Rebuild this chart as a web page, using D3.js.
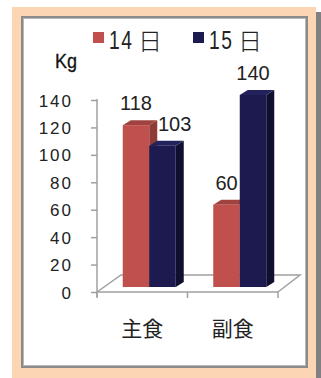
<!DOCTYPE html>
<html><head><meta charset="utf-8">
<script src="https://cdn.jsdelivr.net/npm/d3@7"></script>
<style>body{margin:0;background:#fff}svg{display:block}</style>
</head><body>
<script>
const categories = ["主食", "副食"];
const seriesNames = ["14日", "15日"];
const values14 = [118, 60];
const values15 = [103, 140];
const yTicks = [0, 20, 40, 60, 80, 100, 120, 140];
const unitLabel = "Kg";

const colors = ["#C0504D", "#1C1A4E"];
const sideColors = ["#8E3A37", "#100F30"];
const topColors = ["#A0433F", "#24225C"];

const W = 321, H = 378;
const svg = d3.select("body").append("svg").attr("width", W).attr("height", H);
svg.append("rect").attr("width", W).attr("height", H).attr("fill", "#fff");
// shadow + peach frame
svg.append("rect").attr("x", 316).attr("y", 12).attr("width", 5).attr("height", H - 12).attr("fill", "#808080");
svg.append("rect").attr("x", 12).attr("y", 7).attr("width", 304).attr("height", H - 7).attr("fill", "#FCD5B5");
svg.append("rect").attr("x", 22).attr("y", 17).attr("width", 285).attr("height", 350)
  .attr("fill", "#fff").attr("stroke", "#8a8a8a").attr("stroke-width", 2);
svg.append("rect").attr("x", 23.5).attr("y", 18.5).attr("width", 282).attr("height", 347)
  .attr("fill", "none").attr("stroke", "#b8b8b8").attr("stroke-width", 1);

const x0 = 97, x1 = 278, yBase = 292;
const depthX = 23, depthY = -17;
const y = d3.scaleLinear().domain([0, 140]).range([yBase, 100]);
const xCat = d3.scaleBand().domain(categories).range([x0, x1]).padding(0);
const barW = 26.5;
const xSer = d3.scaleBand().domain(seriesNames)
  .range([(xCat.bandwidth() - 2 * barW) / 2, (xCat.bandwidth() + 2 * barW) / 2]).padding(0);

const axisColor = "#a0a0a0";
// floor
const floor = [[x0, yBase], [x0 + depthX + 1, yBase + depthY], [x1 + depthX - 1, yBase + depthY], [x1, yBase]];
svg.append("path").attr("d", d3.line()(floor)).attr("fill", "none").attr("stroke", axisColor).attr("stroke-width", 1.5);

// y axis
const yAxis = d3.axisLeft(y).tickValues(yTicks).tickSize(6).tickPadding(12);
const gy = svg.append("g").attr("transform", `translate(${x0},0)`).call(yAxis);
gy.select(".domain").attr("stroke", axisColor).attr("stroke-width", 1.5).attr("d", `M0,${y(140) - 1}V${yBase + 5}`);
gy.selectAll(".tick line").attr("stroke", axisColor).attr("stroke-width", 1.5);
gy.selectAll(".tick text").attr("font-family", "Liberation Sans, Arial, sans-serif")
  .attr("font-size", 17).attr("fill", "#222").attr("letter-spacing", "2px").attr("x", -24).attr("dy", "0.36em");

// x axis
const xAxis = d3.axisBottom(xCat).tickSize(0).tickFormat("");
const gx = svg.append("g").attr("transform", `translate(0,${yBase})`).call(xAxis);
gx.select(".domain").attr("stroke", axisColor).attr("stroke-width", 1.5).attr("d", `M${x0},0H${x1}`);
gx.selectAll(".tick").remove();
const catEdges = [x0].concat(categories.map(c => xCat(c) + xCat.bandwidth()));
gx.selectAll("line.ct").data(catEdges).join("line").attr("class", "ct")
  .attr("x1", d => d).attr("x2", d => d).attr("y1", 0).attr("y2", 6).attr("stroke", axisColor).attr("stroke-width", 1.5);
svg.selectAll("text.cat").data(categories).join("text").attr("class", "cat")
  .attr("x", d => xCat(d) + xCat.bandwidth() / 2).attr("y", 336)
  .attr("text-anchor", "middle").attr("font-family", "Noto Sans CJK JP, sans-serif")
  .attr("font-size", 21).attr("fill", "#222").text(d => d);

// bars
const offX = 7, offY = -5, bdx = 8, bdy = -5;
const bars = [];
categories.forEach((c, i) => {
  [values14, values15].forEach((vals, s) => {
    const xl = xCat(c) + xSer(seriesNames[s]) + offX;
    bars.push({ c, s, v: vals[i], xl, xr: xl + xSer.bandwidth(), yt: y(vals[i]) + offY, yb: yBase + offY });
  });
});
const gb = svg.append("g");
bars.forEach(b => {
  const g = gb.append("g");
  g.append("path").attr("d", d3.line()([[b.xr, b.yt], [b.xr + bdx, b.yt + bdy], [b.xr + bdx, b.yb + bdy], [b.xr, b.yb]]) + "Z")
    .attr("fill", sideColors[b.s]);
  g.append("path").attr("d", d3.line()([[b.xl, b.yt], [b.xl + bdx, b.yt + bdy], [b.xr + bdx, b.yt + bdy], [b.xr, b.yt]]) + "Z")
    .attr("fill", topColors[b.s]);
  g.append("rect").attr("x", b.xl).attr("y", b.yt).attr("width", b.xr - b.xl).attr("height", b.yb - b.yt)
    .attr("fill", colors[b.s]);
});

// data labels with simple collision avoidance
let prev = null;
bars.forEach(b => {
  const t = svg.append("text").attr("x", (b.xl + b.xr) / 2).attr("y", b.yt + bdy - 10)
    .attr("text-anchor", "middle").attr("font-family", "Liberation Sans, Arial, sans-serif")
    .attr("font-size", 20).attr("fill", "#222").text(b.v);
  let bb = t.node().getBBox();
  if (prev && bb.x < prev.x + prev.width + 6 && bb.y < prev.y + prev.height && bb.y + bb.height > prev.y) {
    const shift = prev.x + prev.width + 6 - bb.x;
    t.attr("x", (b.xl + b.xr) / 2 + shift);
    bb = t.node().getBBox();
  }
  prev = bb;
});

// unit label
svg.append("text").attr("transform", "translate(55,68) scale(0.9,1)")
  .attr("font-family", "Liberation Sans, Arial, sans-serif")
  .attr("font-size", 20).attr("fill", "#111").attr("stroke", "#111").attr("stroke-width", 0.3).text(unitLabel);

// legend
const legX = [93, 193];
seriesNames.forEach((n, i) => {
  svg.append("rect").attr("x", legX[i]).attr("y", 32).attr("width", 11).attr("height", 11).attr("fill", colors[i]);
  svg.append("text").attr("transform", `translate(${legX[i] + 16},49) scale(0.74,1)`)
    .attr("font-family", "Liberation Sans, Arial, sans-serif").attr("font-size", 26)
    .attr("letter-spacing", "2px").attr("fill", "#222").text(n.slice(0, -1));
  svg.append("text").attr("x", legX[i] + 45).attr("y", 50)
    .attr("font-family", "Noto Sans CJK JP, sans-serif").attr("font-size", 24).attr("font-weight", 300)
    .attr("fill", "#222").text(n.slice(-1));
});
</script>
</body></html>
